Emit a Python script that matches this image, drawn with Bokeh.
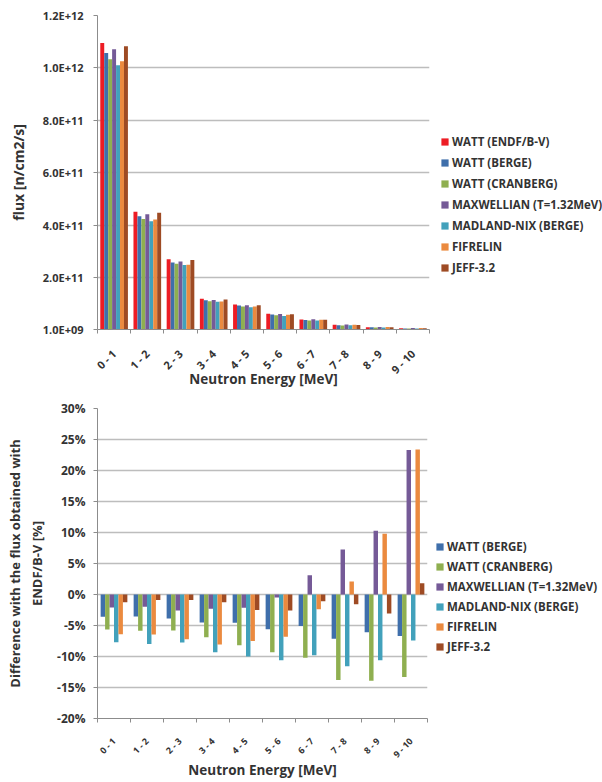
import numpy as np
from math import pi
from bokeh.plotting import figure
from bokeh.models import FixedTicker, Legend, LegendItem, Range1d, PrintfTickFormatter
from bokeh.layouts import column
from bokeh.embed import file_html
from bokeh.resources import INLINE

categories = ["0 - 1", "1 - 2", "2 - 3", "3 - 4", "4 - 5", "5 - 6", "6 - 7", "7 - 8", "8 - 9", "9 - 10"]

# ---- top chart: flux [n/cm2/s]
flux_names = ["WATT (ENDF/B-V)", "WATT (BERGE)", "WATT (CRANBERG)", "MAXWELLIAN (T=1.32MeV)",
              "MADLAND-NIX (BERGE)", "FIFRELIN", "JEFF-3.2"]
flux_watt_endf = [1.095e12, 4.51e11, 2.69e11, 1.18e11, 9.66e10, 6.1e10, 3.9e10, 1.88e10, 9.8e9, 5.5e9]
flux_watt_berge = [1.057e12, 4.33e11, 2.57e11, 1.13e11, 9.27e10, 5.8e10, 3.75e10, 1.76e10, 9.2e9, 5.2e9]
flux_watt_cranberg = [1.033e12, 4.23e11, 2.52e11, 1.09e11, 8.9e10, 5.55e10, 3.5e10, 1.64e10, 8.5e9, 4.9e9]
flux_maxwellian = [1.071e12, 4.41e11, 2.61e11, 1.14e11, 9.4e10, 6.05e10, 4.02e10, 2.0e10, 1.08e10, 6.6e9]
flux_madland = [1.010e12, 4.14e11, 2.47e11, 1.07e11, 8.64e10, 5.3e10, 3.5e10, 1.68e10, 8.8e9, 5.1e9]
flux_fifrelin = [1.025e12, 4.21e11, 2.48e11, 1.08e11, 8.9e10, 5.7e10, 3.8e10, 1.92e10, 1.07e10, 6.7e9]
flux_jeff = [1.083e12, 4.47e11, 2.66e11, 1.16e11, 9.4e10, 5.95e10, 3.86e10, 1.86e10, 9.5e9, 5.6e9]
flux_series = [flux_watt_endf, flux_watt_berge, flux_watt_cranberg, flux_maxwellian,
               flux_madland, flux_fifrelin, flux_jeff]
flux_ticks = [1e9, 2e11, 4e11, 6e11, 8e11, 1e12, 1.2e12]
flux_tick_labels = ["1.0E+09", "2.0E+11", "4.0E+11", "6.0E+11", "8.0E+11", "1.0E+12", "1.2E+12"]

# ---- bottom chart: difference vs ENDF/B-V [%]
diff_names = ["WATT (BERGE)", "WATT (CRANBERG)", "MAXWELLIAN (T=1.32MeV)",
              "MADLAND-NIX (BERGE)", "FIFRELIN", "JEFF-3.2"]
diff_watt_berge = [-3.6, -3.55, -3.87, -4.5, -4.57, -5.6, -5.1, -7.15, -6.08, -6.7]
diff_watt_cranberg = [-5.65, -5.86, -5.8, -6.9, -8.17, -9.3, -10.2, -13.8, -13.9, -13.3]
diff_maxwellian = [-2.1, -1.99, -2.58, -2.3, -2.15, -0.48, 3.1, 7.26, 10.3, 23.3]
diff_madland = [-7.7, -8.0, -7.74, -9.3, -10.0, -10.6, -9.8, -11.56, -10.6, -7.4]
diff_fifrelin = [-6.4, -6.45, -7.2, -8.06, -7.5, -6.8, -2.37, 2.1, 9.8, 23.4]
diff_jeff = [-1.24, -0.9, -0.9, -1.24, -2.5, -2.58, -1.08, -1.56, -3.06, 1.8]
diff_series = [diff_watt_berge, diff_watt_cranberg, diff_maxwellian, diff_madland, diff_fifrelin, diff_jeff]
diff_ticks = [-20, -15, -10, -5, 0, 5, 10, 15, 20, 25, 30]

colors = {
    "WATT (ENDF/B-V)": "#ED1C24",
    "WATT (BERGE)": "#3F6FAB",
    "WATT (CRANBERG)": "#8FAF50",
    "MAXWELLIAN (T=1.32MeV)": "#755A97",
    "MADLAND-NIX (BERGE)": "#42A1BB",
    "FIFRELIN": "#EB8A3F",
    "JEFF-3.2": "#9E4B24",
}

FONT = "Open Sans"
TXT = "#333333"
AXIS_C = "#8C8C8C"
GRID_C = "#BDBDBD"

n = len(categories)
centers = np.arange(n) + 0.5
bounds = np.arange(n + 1)


def style_axes(p, xlab_size, ylab_size, xtitle_size, ytitle_size):
    xa = p.xaxis[0]
    xa.ticker = FixedTicker(ticks=list(centers), minor_ticks=list(bounds))
    xa.major_label_overrides = {float(c): lab for c, lab in zip(centers, categories)}
    xa.major_label_orientation = pi / 4
    xa.major_tick_out = 0
    xa.major_tick_in = 0
    xa.minor_tick_out = 4
    xa.minor_tick_in = 0
    xa.minor_tick_line_color = AXIS_C
    for ax in (p.xaxis[0], p.yaxis[0]):
        ax.axis_line_color = AXIS_C
        ax.major_tick_line_color = AXIS_C
        ax.major_label_text_font = FONT
        ax.major_label_text_font_style = "bold"
        ax.major_label_text_color = TXT
        ax.axis_label_text_font = FONT
        ax.axis_label_text_font_style = "bold"
        ax.axis_label_text_color = TXT
    xa.axis_label_text_font_size = xtitle_size
    p.yaxis[0].axis_label_text_font_size = ytitle_size
    xa.major_label_text_font_size = xlab_size
    p.yaxis[0].major_label_text_font_size = ylab_size
    p.yaxis[0].major_tick_out = 4
    p.yaxis[0].major_tick_in = 0
    p.yaxis[0].minor_tick_line_color = None
    p.xgrid.visible = False
    p.ygrid.grid_line_color = GRID_C
    p.ygrid.grid_line_width = 1.5
    p.outline_line_color = None


# ---------------- top figure ----------------
p1 = figure(frame_width=332, frame_height=314, min_border_left=97, min_border_right=173,
            min_border_top=15, min_border_bottom=58,
            x_range=Range1d(0, n), y_range=Range1d(1e9, 1.2e12),
            output_backend="svg", toolbar_location=None)
style_axes(p1, "11px", "11px", "13.5px", "14px")
p1.yaxis[0].ticker = FixedTicker(ticks=flux_ticks)
p1.yaxis[0].major_label_overrides = {float(t): lab for t, lab in zip(flux_ticks, flux_tick_labels)}
p1.yaxis[0].major_label_standoff = 10
p1.yaxis[0].axis_label = "flux [n/cm2/s]"
p1.yaxis[0].axis_label_standoff = 12
p1.xaxis[0].axis_label = "Neutron Energy [MeV]"
p1.xaxis[0].major_label_standoff = 18
p1.xaxis[0].axis_label_standoff = -15

bw1 = 0.833 / len(flux_names)
items1 = []
for i, (name, vals) in enumerate(zip(flux_names, flux_series)):
    xs = centers + (i - (len(flux_names) - 1) / 2) * bw1
    r = p1.vbar(x=xs, top=vals, bottom=0, width=bw1, fill_color=colors[name], line_color=None)
    items1.append(LegendItem(label=name, renderers=[r]))

leg1 = Legend(items=items1, location=(11, 54), glyph_width=9, glyph_height=9, label_height=14,
              spacing=6, padding=0, margin=0, label_standoff=3, border_line_color=None,
              background_fill_alpha=0, label_text_font=FONT, label_text_font_style="bold",
              label_text_font_size="11.5px", label_text_color=TXT)
p1.add_layout(leg1, "right")

# ---------------- bottom figure ----------------
p2 = figure(frame_width=330, frame_height=310, min_border_left=92, min_border_right=180,
            min_border_top=18, min_border_bottom=60,
            x_range=Range1d(0, n), y_range=Range1d(-20, 30),
            output_backend="svg", toolbar_location=None)
style_axes(p2, "9px", "12px", "13.5px", "13px")
p2.yaxis[0].ticker = FixedTicker(ticks=diff_ticks)
p2.yaxis[0].formatter = PrintfTickFormatter(format="%d%%")
p2.yaxis[0].major_label_standoff = 8
p2.yaxis[0].axis_label = "Difference with the flux obtained with\nENDF/B-V [%]"
p2.yaxis[0].axis_label_standoff = 8
p2.xaxis[0].axis_label = "Neutron Energy [MeV]"
p2.xaxis[0].major_label_standoff = 17
p2.xaxis[0].axis_label_standoff = -7

bw2 = 0.81 / len(diff_names)
items2 = []
for i, (name, vals) in enumerate(zip(diff_names, diff_series)):
    xs = centers + (i - (len(diff_names) - 1) / 2) * bw2
    r = p2.vbar(x=xs, top=vals, bottom=0, width=bw2, fill_color=colors[name], line_color=None)
    items2.append(LegendItem(label=name, renderers=[r]))

leg2 = Legend(items=items2, location=(8, 64), glyph_width=9, glyph_height=9, label_height=14,
              spacing=5, padding=0, margin=0, label_standoff=3, border_line_color=None,
              background_fill_alpha=0, label_text_font=FONT, label_text_font_style="bold",
              label_text_font_size="11.5px", label_text_color=TXT)
p2.add_layout(leg2, "right")

layout = column(p1, p2, spacing=0)
open("out.html", "w").write(file_html(layout, INLINE))
